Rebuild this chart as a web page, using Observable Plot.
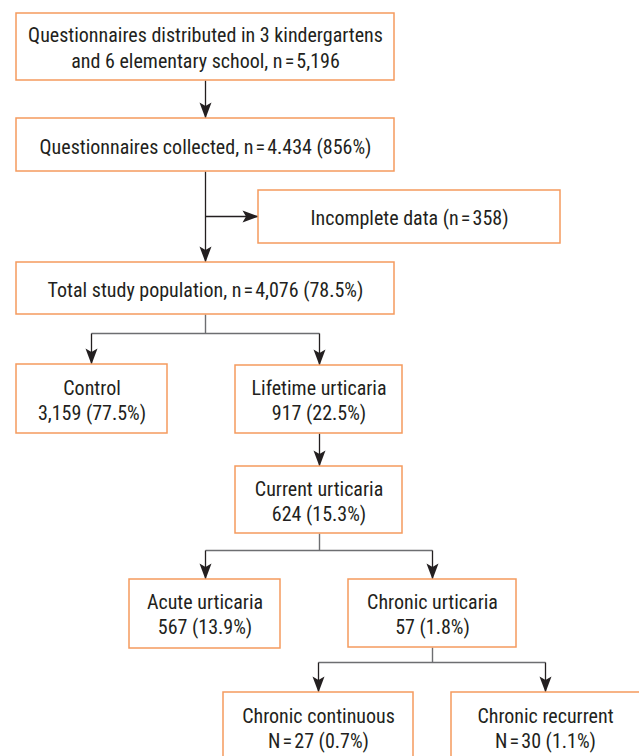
<!DOCTYPE html>
<html>
<head>
<meta charset="utf-8">
<script src="https://cdn.jsdelivr.net/npm/d3@7"></script>
<script src="https://cdn.jsdelivr.net/npm/@observablehq/plot@0.6"></script>
<style>
  html, body { margin: 0; padding: 0; background: white; overflow: hidden; }
  #chart svg { display: block; }
</style>
</head>
<body>
<div id="chart"></div>
<script>
// ---- data ----
const stageNames = [
  "Questionnaires distributed in 3 kindergartens\nand 6 elementary school",
  "Questionnaires collected",
  "Incomplete data",
  "Total study population",
  "Control",
  "Lifetime urticaria",
  "Current urticaria",
  "Acute urticaria",
  "Chronic urticaria",
  "Chronic continuous",
  "Chronic recurrent"
];
const stageCounts = ["5,196", "4.434", "358", "4,076", "3,159", "917", "624", "567", "57", "27", "30"];
const stagePercents = ["", "856%", "", "78.5%", "77.5%", "22.5%", "15.3%", "13.9%", "1.8%", "0.7%", "1.1%"];
const eq = "\u200A=\u200A";
const stageLabels = [
  "Questionnaires distributed in 3 kindergartens\nand 6 elementary school, n" + eq + "5,196",
  "Questionnaires collected, n" + eq + "4.434 (856%)",
  "Incomplete data (n" + eq + "358)",
  "Total study population, n" + eq + "4,076 (78.5%)",
  "Control\n3,159 (77.5%)",
  "Lifetime urticaria\n917 (22.5%)",
  "Current urticaria\n624 (15.3%)",
  "Acute urticaria\n567 (13.9%)",
  "Chronic urticaria\n57 (1.8%)",
  "Chronic continuous\nN" + eq + "27 (0.7%)",
  "Chronic recurrent\nN" + eq + "30 (1.1%)"
];

// ---- layout (box geometry in pixels) ----
const boxLeft   = [16, 16, 258, 16, 16, 235, 235, 129, 348, 223, 451];
const boxRight  = [394, 394, 560, 394, 167, 402, 402, 280, 516, 413, 660];
const boxTop    = [13, 118, 190, 262, 364, 365, 466, 579, 579, 692, 692];
const boxBottom = [80, 171, 243, 314, 433, 433, 533, 648, 647, 790, 790];
const textMidX  = [205, 205, 409, 205, 91.5, 318.5, 318.5, 204.5, 432, 318, 545];
const textMidY  = [46.5, 145, 216.5, 288, 399, 399, 500, 613, 613, 727, 727];

const nodes = stageLabels.map((label, i) => ({
  label,
  x1: boxLeft[i], x2: boxRight[i], y1: boxTop[i], y2: boxBottom[i],
  tx: textMidX[i], ty: textMidY[i]
}));

// connectors: [x1, y1, x2, y2, kind]  kind: "d" dark arrow shaft, "g" gray branch line
const connectors = [
  [205, 80, 205, 118, "d"],
  [205, 171, 205, 262, "d"],
  [205, 216, 258, 216, "d"],
  [205, 314, 205, 333, "g"],
  [91, 333, 319, 333, "g"],
  [91, 333, 91, 364, "d"],
  [319, 333, 319, 365, "d"],
  [319, 433, 319, 466, "d"],
  [319, 533, 319, 550, "g"],
  [205, 550, 432, 550, "g"],
  [205, 550, 205, 579, "d"],
  [432, 550, 432, 579, "d"],
  [432, 647, 432, 662, "g"],
  [318, 662, 545, 662, "g"],
  [318, 662, 318, 692, "d"],
  [545, 662, 545, 692, "d"]
].map(([x1, y1, x2, y2, kind]) => ({x1, y1, x2, y2, kind}));

// arrow heads at the box edges
const heads = [
  {x: 205, y: 118, dir: 0},
  {x: 258, y: 216, dir: -90},
  {x: 205, y: 262, dir: 0},
  {x: 91, y: 364, dir: 0},
  {x: 319, y: 365, dir: 0},
  {x: 319, y: 466, dir: 0},
  {x: 205, y: 579, dir: 0},
  {x: 432, y: 579, dir: 0},
  {x: 318, y: 692, dir: 0},
  {x: 545, y: 692, dir: 0}
];

// arrow head shape, tip at origin pointing down
const arrowHead = {
  draw(ctx) {
    ctx.moveTo(0, 0);
    ctx.lineTo(-6, -16);
    ctx.lineTo(0, -12.5);
    ctx.lineTo(6, -16);
    ctx.closePath();
  }
};

const orange = "#f59a5e";
const dark = "#231f20";
const gray = "#6d6e71";

const chart = Plot.plot({
  width: 639,
  height: 756,
  margin: 0,
  style: {background: "white", overflow: "hidden"},
  x: {domain: [0, 639], range: [0, 639], axis: null},
  y: {domain: [0, 756], range: [0, 756], axis: null},
  marks: [
    Plot.link(connectors.filter(d => d.kind === "g"), {
      x1: "x1", y1: "y1", x2: "x2", y2: "y2",
      stroke: gray, strokeWidth: 1.4
    }),
    Plot.link(connectors.filter(d => d.kind === "d"), {
      x1: "x1", y1: "y1", x2: "x2", y2: "y2",
      stroke: dark, strokeWidth: 1.3
    }),
    Plot.dot(heads, {
      x: "x", y: "y", rotate: "dir", symbol: arrowHead, r: 5,
      fill: dark, stroke: "none"
    }),
    Plot.rect(nodes, {
      x1: "x1", x2: "x2", y1: "y1", y2: "y2", inset: 0,
      fill: "white", stroke: orange, strokeWidth: 1.5
    }),
    Plot.text(nodes, {
      x: "tx", y: "ty", text: "label",
      fontSize: 20, lineHeight: 1.275, fontWeight: 400,
      fontFamily: "'Roboto Condensed', Roboto, sans-serif",
      fill: dark, textAnchor: "middle"
    })
  ]
});
document.getElementById("chart").appendChild(chart);
</script>
</body>
</html>
